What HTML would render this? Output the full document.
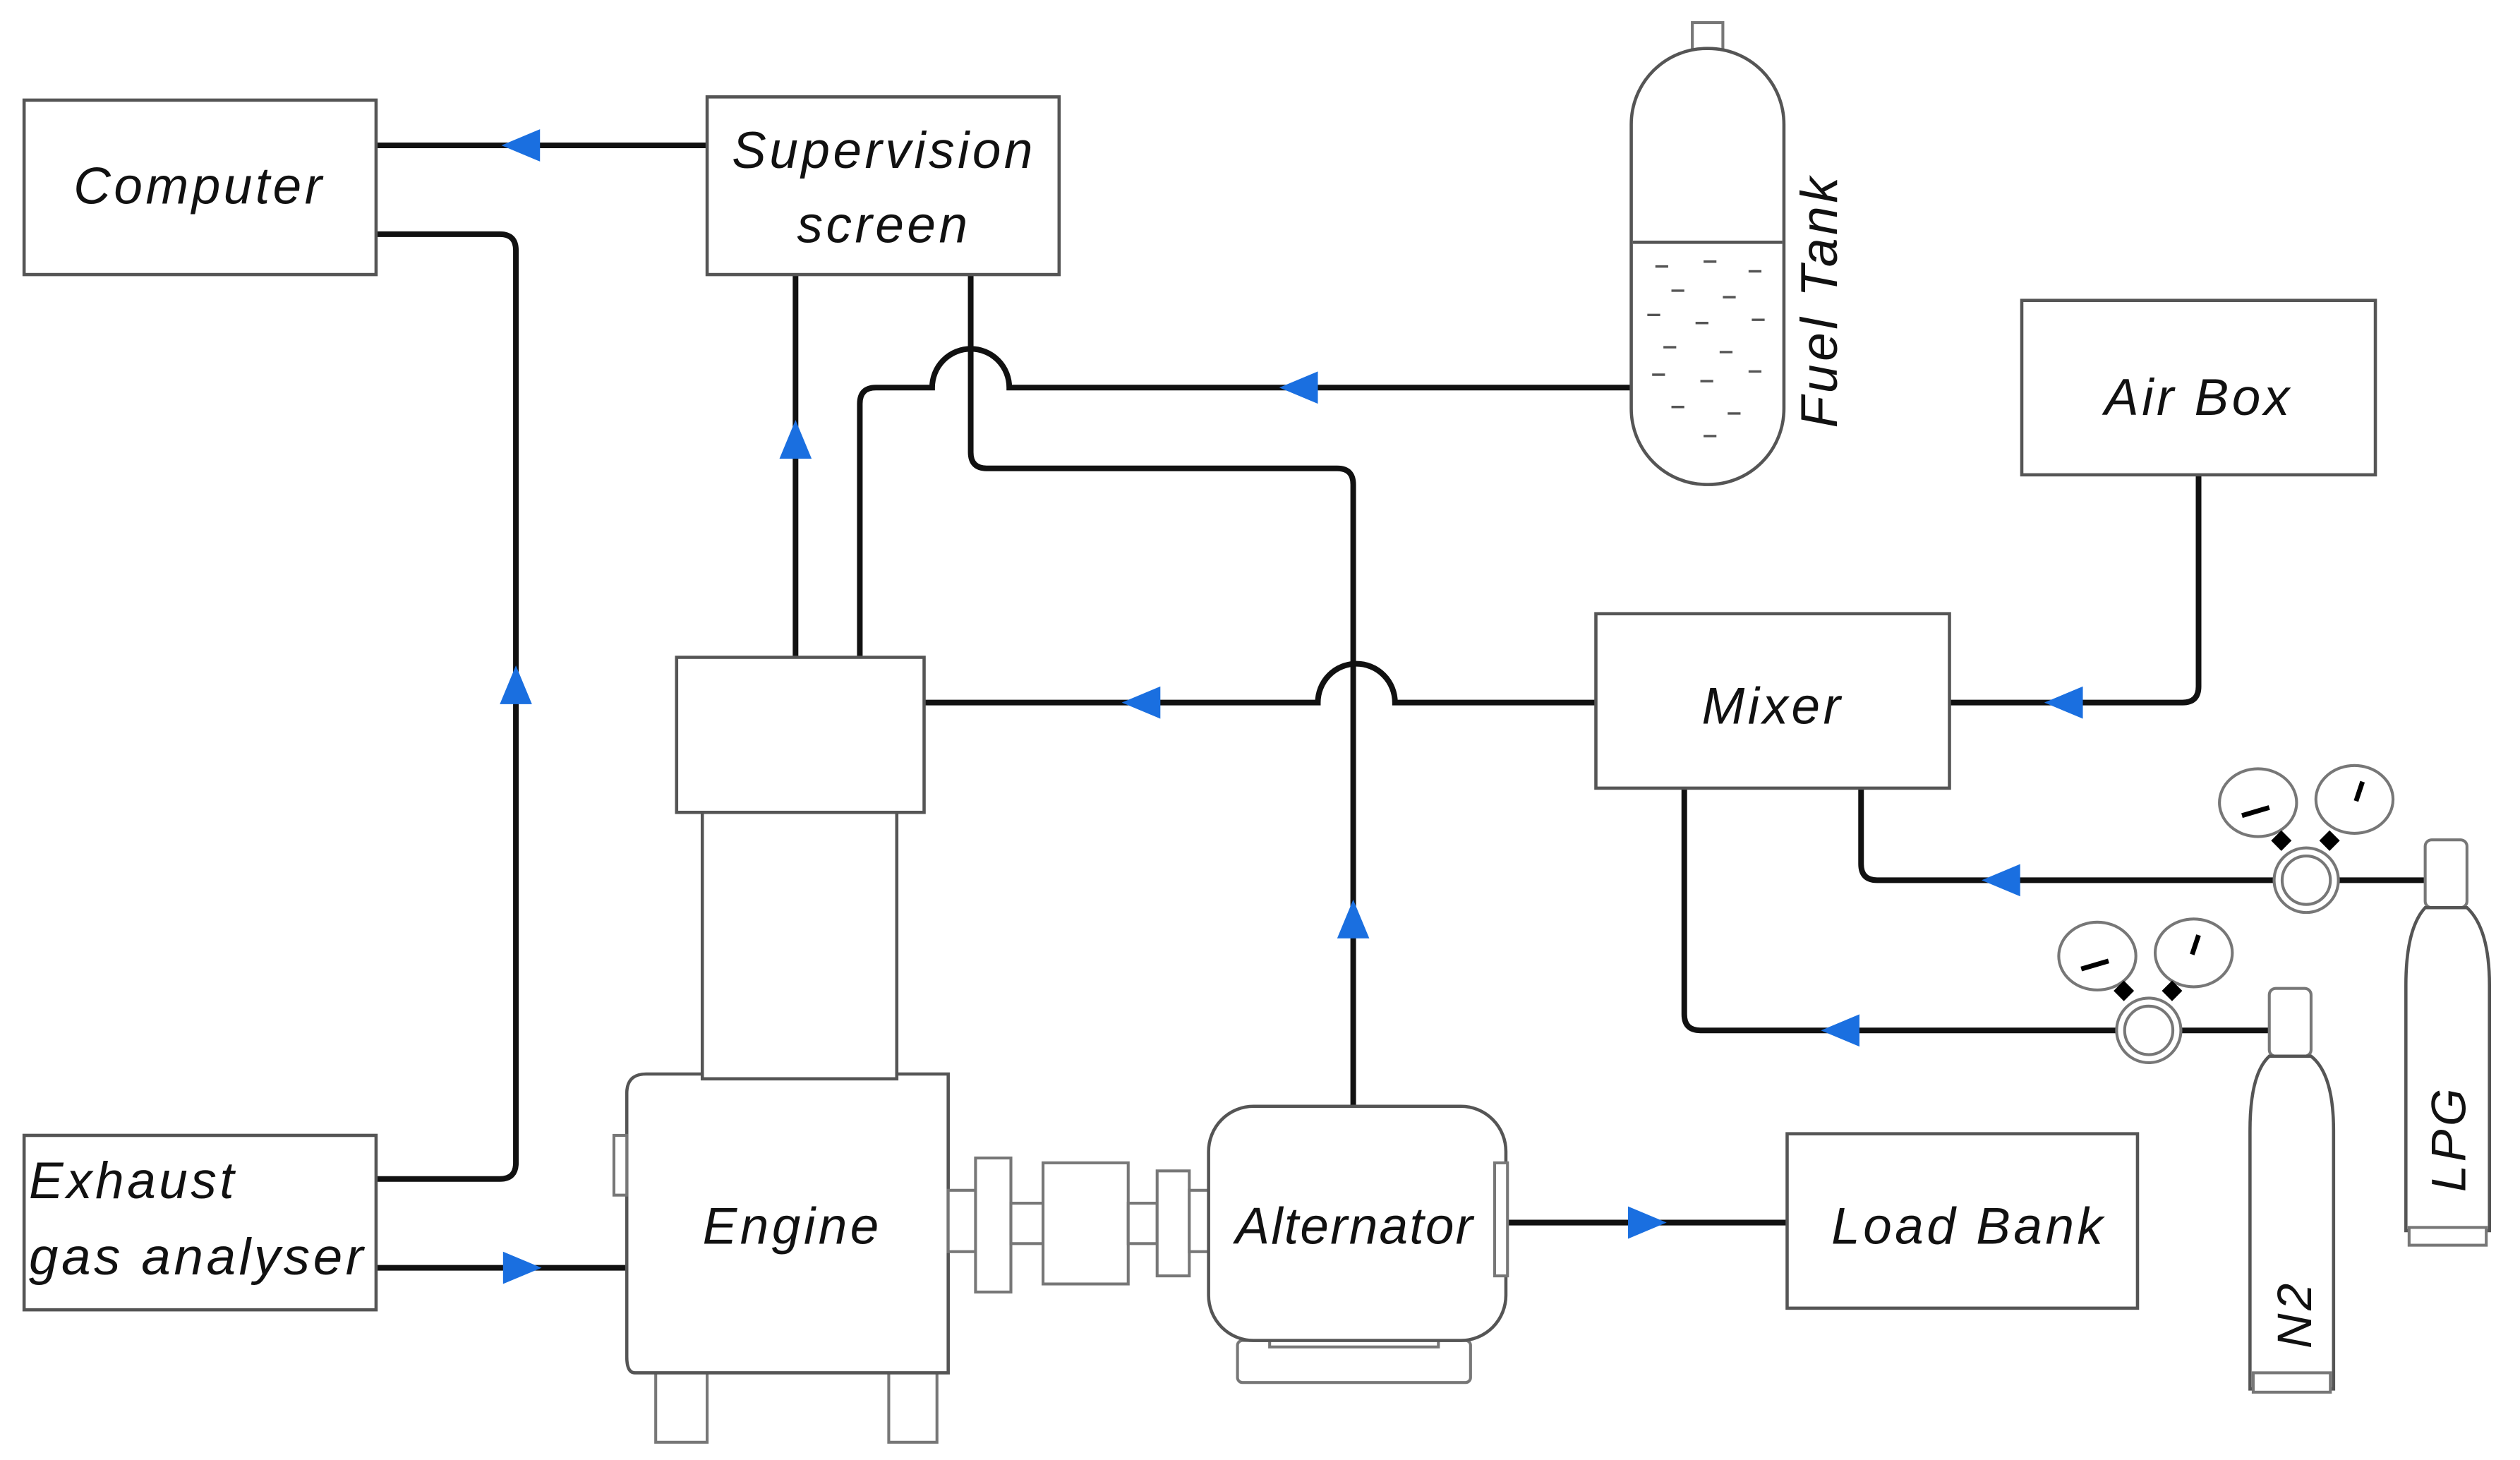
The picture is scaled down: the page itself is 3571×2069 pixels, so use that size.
<!DOCTYPE html>
<html><head><meta charset="utf-8"><style>html,body{margin:0;padding:0;background:#fff;}svg{display:block}</style></head>
<body>
<svg width="3571" height="2069" viewBox="0 0 1568 904" preserveAspectRatio="none" xmlns="http://www.w3.org/2000/svg">
<defs>
<style>
.b{fill:#fff;stroke:#555;stroke-width:2}
.l{fill:none;stroke:#111;stroke-width:3.5}
.t{font-family:"Liberation Sans",sans-serif;font-style:italic;font-size:32px;letter-spacing:2px;fill:#111}
.a{fill:#1a6fe0}
.g{fill:#fff;stroke:#777;stroke-width:1.8}
</style>
</defs>
<rect width="1570" height="904" fill="#fff"/>
<path class="l" d="M440 90H234"/>
<path class="l" d="M234 145H311Q321 145 321 155V720Q321 730 311 730H234"/>
<path class="l" d="M234 785H390"/>
<path class="l" d="M495 407V170"/>
<path class="l" d="M535 407V250Q535 240 545 240H580A24 24 0 0 1 628 240H1015"/>
<path class="l" d="M604 170V280Q604 290 614 290H832Q842 290 842 300V685"/>
<path class="l" d="M993 435H868A24 24 0 0 0 820 435H575"/>
<path class="l" d="M1368 294V425Q1368 435 1358 435H1213"/>
<path class="l" d="M1158 488V535Q1158 545 1168 545H1510"/>
<path class="l" d="M1048 488V628Q1048 638 1058 638H1412"/>
<path class="l" d="M937 757H1112"/>
<polygon class="a" points="312,90 336,80 336,100"/>
<polygon class="a" points="321,412 311,436 331,436"/>
<polygon class="a" points="337,785 313,775 313,795"/>
<polygon class="a" points="495,260 485,284 505,284"/>
<polygon class="a" points="796,240 820,230 820,250"/>
<polygon class="a" points="842,557 832,581 852,581"/>
<polygon class="a" points="698,435 722,425 722,445"/>
<polygon class="a" points="1272,435 1296,425 1296,445"/>
<polygon class="a" points="1233,545 1257,535 1257,555"/>
<polygon class="a" points="1133,638 1157,628 1157,648"/>
<polygon class="a" points="1037,757 1013,747 1013,767"/>
<rect class="b" x="15" y="62" width="219" height="108"/>
<text class="t" x="124" y="126" text-anchor="middle">Computer</text>
<rect class="b" x="440" y="60" width="219" height="110"/>
<text class="t" x="550" y="104" text-anchor="middle">Supervision</text>
<text class="t" x="550" y="150" text-anchor="middle">screen</text>
<rect class="b" x="15" y="703" width="219" height="108"/>
<text class="t" x="18" y="742">Exhaust</text>
<text class="t" x="18" y="789" textLength="210" lengthAdjust="spacingAndGlyphs">gas analyser</text>
<rect class="b" x="1258" y="186" width="220" height="108"/>
<text class="t" x="1368" y="257" text-anchor="middle">Air Box</text>
<rect class="b" x="993" y="380" width="220" height="108"/>
<text class="t" x="1103" y="448" text-anchor="middle">Mixer</text>
<rect class="b" x="1112" y="702" width="218" height="108"/>
<text class="t" x="1225" y="770" text-anchor="middle">Load Bank</text>
<rect class="b" x="437" y="503" width="121" height="165"/>
<rect class="b" x="421" y="407" width="154" height="96"/>
<rect class="g" x="408" y="850" width="32" height="43"/>
<rect class="g" x="553" y="850" width="30" height="43"/>
<path class="b" d="M402 665H437V668H558V665H590V850H395Q390 850 390 840V677Q390 665 402 665Z"/>
<rect class="g" x="382" y="703" width="8" height="37"/>
<text class="t" x="493" y="770" text-anchor="middle">Engine</text>
<rect class="g" x="590" y="737" width="18" height="38"/>
<rect class="g" x="607" y="717" width="22" height="83"/>
<rect class="g" x="629" y="745" width="20" height="25"/>
<rect class="g" x="649" y="720" width="53" height="75"/>
<rect class="g" x="702" y="745" width="18" height="25"/>
<rect class="g" x="720" y="725" width="20" height="65"/>
<rect class="g" x="740" y="737" width="12" height="38"/>
<rect class="g" x="770" y="830" width="145" height="26" rx="3"/>
<rect class="g" x="790" y="826" width="105" height="8"/>
<rect class="b" x="752" y="685" width="185" height="145" rx="28"/>
<rect class="g" x="930" y="720" width="8" height="70"/>
<text class="t" x="843" y="770" text-anchor="middle" style="letter-spacing:1px">Alternator</text>
<rect class="g" x="1053" y="14" width="19" height="18"/>
<rect class="b" x="1015" y="30" width="95" height="270" rx="47"/>
<line x1="1016" y1="150" x2="1109" y2="150" stroke="#555" stroke-width="2"/>
<g stroke="#555" stroke-width="1.5">
<line x1="1030" y1="165" x2="1038" y2="165"/><line x1="1060" y1="162" x2="1068" y2="162"/><line x1="1088" y1="168" x2="1096" y2="168"/>
<line x1="1040" y1="180" x2="1048" y2="180"/><line x1="1072" y1="184" x2="1080" y2="184"/><line x1="1025" y1="195" x2="1033" y2="195"/>
<line x1="1055" y1="200" x2="1063" y2="200"/><line x1="1090" y1="198" x2="1098" y2="198"/><line x1="1035" y1="215" x2="1043" y2="215"/>
<line x1="1070" y1="218" x2="1078" y2="218"/><line x1="1028" y1="232" x2="1036" y2="232"/><line x1="1058" y1="236" x2="1066" y2="236"/>
<line x1="1088" y1="230" x2="1096" y2="230"/><line x1="1040" y1="252" x2="1048" y2="252"/><line x1="1075" y1="256" x2="1083" y2="256"/>
<line x1="1060" y1="270" x2="1068" y2="270"/>
</g>
<text class="t" transform="translate(1143 265) rotate(-90)">Fuel Tank</text>
<g>
<ellipse class="g" cx="1405" cy="497" rx="24" ry="21"/><ellipse class="g" cx="1465" cy="495" rx="24" ry="21"/>
<line x1="1395" y1="505" x2="1412" y2="500" stroke="#000" stroke-width="3"/>
<line x1="1466" y1="496" x2="1470" y2="484" stroke="#000" stroke-width="3"/>
<circle class="g" cx="1435" cy="545" r="20"/><circle class="g" cx="1435" cy="545" r="15"/>
<rect x="1415" y="516" width="9" height="9" transform="rotate(45 1419.5 520.5)"/>
<rect x="1445" y="516" width="9" height="9" transform="rotate(45 1449.5 520.5)"/>
</g>
<g>
<ellipse class="g" cx="1305" cy="592" rx="24" ry="21"/><ellipse class="g" cx="1365" cy="590" rx="24" ry="21"/>
<line x1="1295" y1="600" x2="1312" y2="595" stroke="#000" stroke-width="3"/>
<line x1="1364" y1="591" x2="1368" y2="579" stroke="#000" stroke-width="3"/>
<circle class="g" cx="1337" cy="638" r="20"/><circle class="g" cx="1337" cy="638" r="15"/>
<rect x="1317" y="609" width="9" height="9" transform="rotate(45 1321.5 613.5)"/>
<rect x="1347" y="609" width="9" height="9" transform="rotate(45 1351.5 613.5)"/>
</g>
<rect class="g" x="1412" y="612" width="26" height="42" rx="4"/>
<path class="b" d="M1400 860V700Q1400 665 1412 654H1438Q1452 665 1452 700V860Z"/>
<rect class="g" x="1402" y="850" width="48" height="12"/>
<text class="t" style="font-size:30px" transform="translate(1438 835) rotate(-90)">N2</text>
<rect class="g" x="1509" y="520" width="26" height="42" rx="4"/>
<path class="b" d="M1497 762V610Q1497 575 1509 562H1535Q1549 575 1549 610V762Z"/>
<rect class="g" x="1499" y="760" width="48" height="11"/>
<text class="t" style="font-size:30px" transform="translate(1534 738) rotate(-90)">LPG</text>
</svg>
</body></html>
